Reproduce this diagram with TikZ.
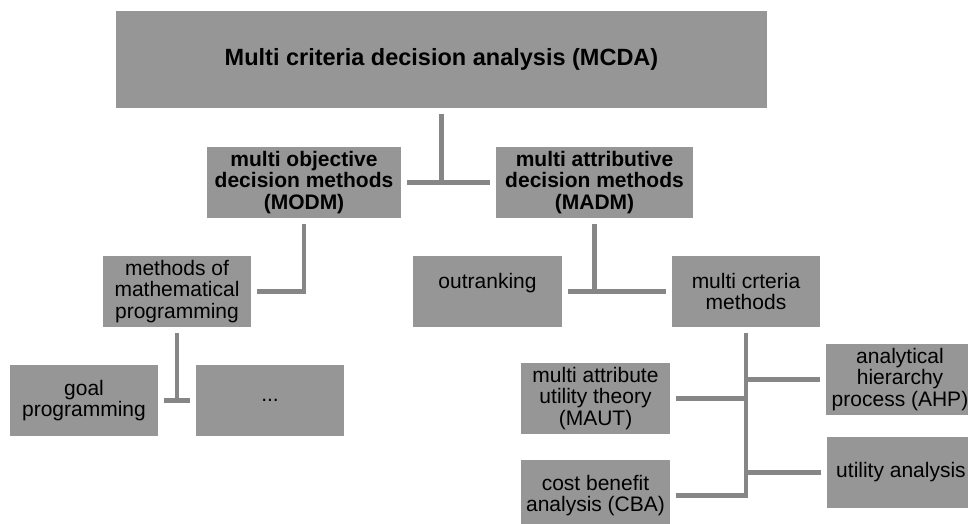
\documentclass[tikz,border=0pt]{standalone}
\usepackage{fontspec}
\setmainfont{Liberation Sans}
\definecolor{boxgray}{RGB}{150,150,150}
\definecolor{linegray}{RGB}{134,134,134}
\begin{document}
\begin{tikzpicture}[x=1pt,y=-1pt,
		box/.style={fill=boxgray, inner sep=2pt, align=center, minimum width=148pt, minimum height=71pt, font=\fontsize{21}{21.5}\selectfont},
		bbox/.style={box, font=\fontsize{21}{21.5}\selectfont\bfseries},
		link/.style={draw=linegray, line width=4.5pt, shorten <=6pt, shorten >=6pt},
		branch/.style={draw=linegray, line width=4.5pt, shorten >=6pt}]
		\useasboundingbox (0,0) rectangle (968,524);
		\clip (0,0) rectangle (968,524);
		%top level
		\node[bbox, minimum width=651pt, minimum height=97pt, font=\fontsize{23.5}{25}\selectfont\bfseries] (mcda) at (441.5,59.4) {Multi criteria decision analysis (MCDA)};
		\node[bbox, minimum width=194pt] (modm) at (304,182.5) {multi objective\\decision methods\\(MODM)};
		\node[bbox, minimum width=197pt] (madm) at (594.5,182.5) {multi attributive\\decision methods\\(MADM)};
		%second level
		\node[box] (mathprog) at (177,291.5) {methods of\\mathematical\\programming};
		\node[box, minimum width=149pt] (outrank) at (487.5,291.5) {outranking\\~};
		\node[box] (mcm) at (746,291.5) {multi crteria\\methods};
		%third level
		\node[box] (goal) at (84,400.5) {goal\\programming};
		\node[box] (dots) at (270,400.5) {...};
		\node[box, minimum width=149pt] (maut) at (595.5,398.5) {multi attribute\\utility theory\\(MAUT)};
		\node[box, minimum width=149pt] (cba) at (595.5,495.5) {cost benefit\\analysis (CBA)};
		\node[box] (ahp) at (900,379.5) {analytical\\hierarchy\\process (AHP)};
		\node[box] (ua) at (901,472.5) {utility analysis};
		%connectors
		\draw[linegray, line width=4.5pt, shorten <=6pt] (mcda.south) -- (mcda.south |- modm.east);
		\draw[link] (modm.east) -- (madm.west);
		\draw[link] (modm.south) |- (mathprog.east);
		\draw[linegray, line width=4.5pt, shorten <=6pt] (madm.south) -- (madm.south |- outrank.east);
		\draw[link] (outrank.east) -- (mcm.west);
		\draw[linegray, line width=4.5pt, shorten <=6pt] (mathprog.south) -- (mathprog.south |- goal.east);
		\draw[link] (goal.east) -- (dots.west);
		\draw[link] (mcm.south) |- (cba.east);
		\draw[branch] (mcm.south |- maut.east) -- (maut.east);
		\draw[branch] (mcm.south |- ahp.west) -- (ahp.west);
		\draw[branch] (mcm.south |- ua.west) -- (ua.west);
	\end{tikzpicture}
\end{document}
